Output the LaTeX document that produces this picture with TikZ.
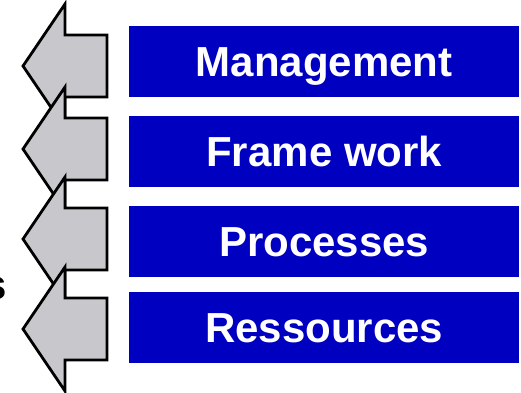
\documentclass[tikz,border=0pt]{standalone}
\usepackage{fontspec}
\setmainfont{Liberation Sans}
\definecolor{barblue}{RGB}{0,0,192}
\definecolor{arrowgray}{RGB}{200,200,204}
\begin{document}
\begin{tikzpicture}[x=1pt,y=-1pt,line join=miter]
\tikzset{
  bar/.style={fill=barblue,draw=none,minimum width=390pt,minimum height=71pt,
    inner sep=0pt,anchor=north west,text=white,
    font=\fontsize{42}{48}\selectfont\bfseries,text height=30pt,text depth=0pt},
  leftarrow/.style={fill=arrowgray,draw=black,line width=2.8pt}
}
\useasboundingbox (0,0) rectangle (521,392);

% left-pointing block arrows, each drawn over the one above it
\foreach \t in {66,149,239,329}{
  \draw[leftarrow] (65,\t-62) -- (23,\t) -- (65,\t+62) -- (65,\t+31)
    -- (107,\t+31) -- (107,\t-31) -- (65,\t-31) -- cycle;
}

% blue bars with their captions
\node[bar] (mgmt) at (129,26) {Management};
\node[bar] (frame) at (129,116) {Frame work};
\node[bar] (proc) at (129,206) {Processes};
\node[bar] (res) at (129,292) {Ressources};

% trailing letter at the left margin
\node[anchor=base east,inner sep=0pt,font=\fontsize{42}{48}\selectfont\bfseries] (tail) at (7,299) {s};
\end{tikzpicture}
\end{document}
